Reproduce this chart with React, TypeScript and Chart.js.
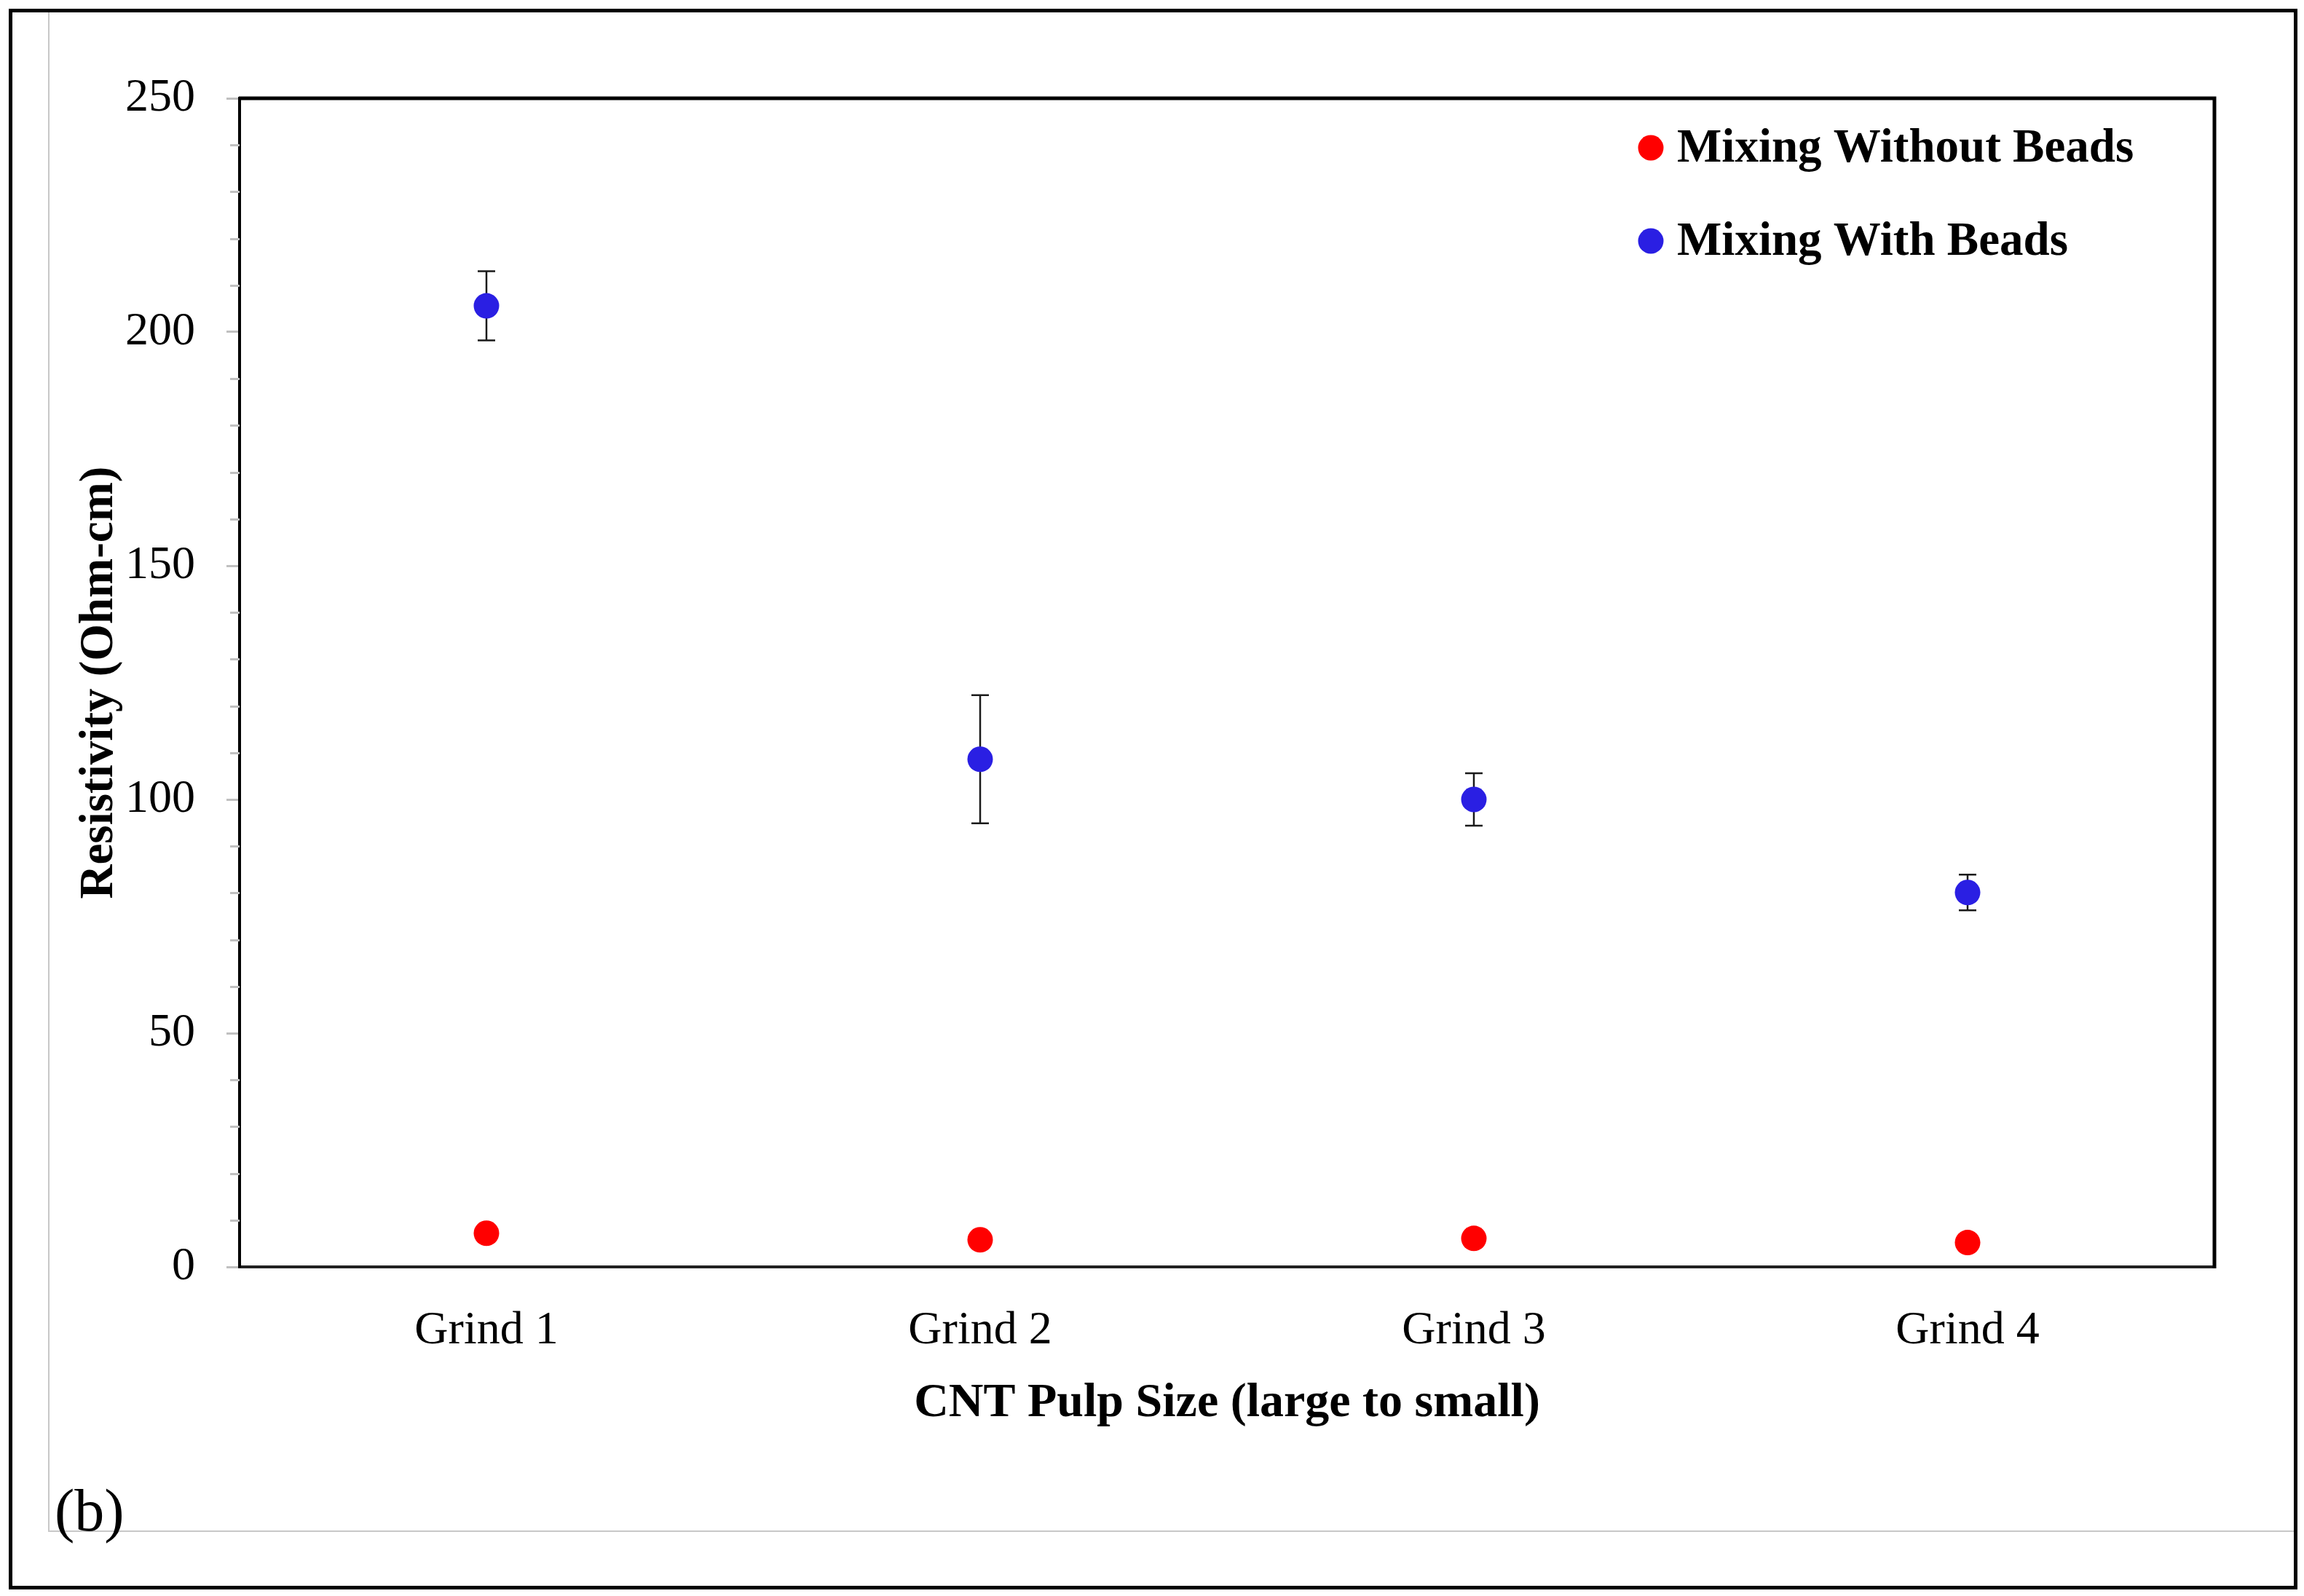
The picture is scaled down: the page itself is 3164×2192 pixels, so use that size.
import React, { useEffect, useRef } from 'react';
import { Chart, registerables } from 'chart.js';

Chart.register(...registerables);

// ---- data ----
const categories = ['Grind 1', 'Grind 2', 'Grind 3', 'Grind 4'];
const seriesLabels = ['Mixing Without Beads', 'Mixing With Beads'];
const withoutBeads = [7.2, 5.8, 6.1, 5.2];
const withBeads = [205.6, 108.6, 100.0, 80.1];
const withBeadsErr = [7.4, 13.7, 5.6, 3.8];
const yMin = 0;
const yMax = 250;
const yMajorStep = 50;
const yMinorStep = 10;
const xTitle = 'CNT Pulp Size (large to small)';
const yTitle = 'Resistivity (Ohm-cm)';
const panelLabel = '(b)';

const FONT = "'Liberation Serif', 'Times New Roman', serif";
const RED = '#ff0000';
const BLUE = '#2a1fe3';
const W = 3164;
const H = 2192;

const errorsByDataset: Record<number, number[]> = { 1: withBeadsErr };

const framePlugin = {
  id: 'frame',
  beforeDraw(chart: any) {
    const { ctx } = chart;
    ctx.save();
    ctx.fillStyle = '#ffffff';
    ctx.fillRect(0, 0, chart.width, chart.height);
    // thin gray chart-area frame
    ctx.strokeStyle = '#c8c8c8';
    ctx.lineWidth = 2;
    ctx.beginPath();
    ctx.moveTo(67, 14);
    ctx.lineTo(67, 2103);
    ctx.lineTo(3150, 2103);
    ctx.stroke();
    // outer black frame
    ctx.strokeStyle = '#000000';
    ctx.lineWidth = 5;
    ctx.strokeRect(14.5, 14.5, 3152.5 - 14.5, 2180.5 - 14.5);
    ctx.restore();
  },
  afterDraw(chart: any) {
    const { ctx, chartArea } = chart;
    ctx.save();
    // top & right plot border
    ctx.strokeStyle = '#000000';
    ctx.lineWidth = 5;
    ctx.beginPath();
    ctx.moveTo(chartArea.left - 1, chartArea.top);
    ctx.lineTo(chartArea.right, chartArea.top);
    ctx.lineTo(chartArea.right, chartArea.bottom + 2);
    ctx.stroke();
    // panel label
    ctx.fillStyle = '#000000';
    ctx.font = `82px ${FONT}`;
    ctx.textAlign = 'left';
    ctx.textBaseline = 'alphabetic';
    ctx.fillText(panelLabel, 75, 2102);
    ctx.restore();
  },
};

const minorTickPlugin = {
  id: 'minorTicks',
  afterDraw(chart: any) {
    const { ctx, chartArea } = chart;
    const ys = chart.scales.y;
    ctx.save();
    ctx.strokeStyle = '#c0c0c0';
    ctx.lineWidth = 3;
    for (let v = yMin; v <= yMax; v += yMinorStep) {
      if (v % yMajorStep === 0) continue;
      const py = Math.round(ys.getPixelForValue(v)) + 0.5;
      ctx.beginPath();
      ctx.moveTo(chartArea.left - 13, py);
      ctx.lineTo(chartArea.left, py);
      ctx.stroke();
    }
    ctx.restore();
  },
};

const errorBarPlugin = {
  id: 'errorBars',
  beforeDatasetsDraw(chart: any) {
    const { ctx } = chart;
    const ys = chart.scales.y;
    ctx.save();
    ctx.strokeStyle = '#1a1a1a';
    ctx.lineWidth = 2.5;
    Object.keys(errorsByDataset).forEach((k) => {
      const di = Number(k);
      const errs = errorsByDataset[di];
      const meta = chart.getDatasetMeta(di);
      const vals = chart.data.datasets[di].data as number[];
      meta.data.forEach((el: any, i: number) => {
        const e = errs[i];
        if (e == null) return;
        const x = el.x;
        const yt = ys.getPixelForValue(vals[i] + e);
        const yb = ys.getPixelForValue(vals[i] - e);
        ctx.beginPath();
        ctx.moveTo(x, yt);
        ctx.lineTo(x, yb);
        ctx.moveTo(x - 12, yt);
        ctx.lineTo(x + 12, yt);
        ctx.moveTo(x - 12, yb);
        ctx.lineTo(x + 12, yb);
        ctx.stroke();
      });
    });
    ctx.restore();
  },
};

const legendPlugin = {
  id: 'insideLegend',
  afterDraw(chart: any) {
    const { ctx, chartArea } = chart;
    ctx.save();
    ctx.font = `bold 65px ${FONT}`;
    ctx.textAlign = 'left';
    ctx.textBaseline = 'alphabetic';
    chart.data.datasets.forEach((ds: any, i: number) => {
      const baseY = chartArea.top + 87 + i * 128;
      const mx = chartArea.right - 774;
      const my = baseY - 19;
      ctx.fillStyle = ds.backgroundColor;
      ctx.beginPath();
      ctx.arc(mx, my, 17.5, 0, Math.PI * 2);
      ctx.fill();
      ctx.fillStyle = '#000000';
      ctx.fillText(ds.label, chartArea.right - 738, baseY);
    });
    ctx.restore();
  },
};

export default function App() {
  const canvasRef = useRef<HTMLCanvasElement | null>(null);

  useEffect(() => {
    document.body.style.margin = '0';
    const canvas = canvasRef.current;
    if (!canvas) return;
    const chart = new Chart(canvas, {
      type: 'line',
      data: {
        labels: categories,
        datasets: [
          {
            label: seriesLabels[0],
            data: withoutBeads,
            showLine: false,
            backgroundColor: RED,
            borderColor: RED,
            pointBackgroundColor: RED,
            pointBorderWidth: 0,
            pointRadius: 17.5,
            pointHoverRadius: 17.5,
          },
          {
            label: seriesLabels[1],
            data: withBeads,
            showLine: false,
            backgroundColor: BLUE,
            borderColor: BLUE,
            pointBackgroundColor: BLUE,
            pointBorderWidth: 0,
            pointRadius: 17.5,
            pointHoverRadius: 17.5,
          },
        ],
      },
      options: {
        responsive: false,
        animation: false,
        devicePixelRatio: 1,
        events: [],
        layout: { padding: { left: 0, top: 135, right: 123, bottom: 0 } },
        plugins: {
          legend: { display: false },
          tooltip: { enabled: false },
          title: { display: false },
        },
        scales: {
          x: {
            type: 'category',
            offset: true,
            grid: { display: false, drawTicks: false, offset: true },
            border: { display: true, color: '#222222', width: 4 },
            ticks: {
              color: '#000000',
              font: { family: FONT, size: 64, lineHeight: 1.2 },
              padding: 50,
              maxRotation: 0,
              autoSkip: false,
            },
            title: {
              display: true,
              text: xTitle,
              color: '#000000',
              font: { family: FONT, size: 66, weight: 'bold', lineHeight: 1.2 },
              padding: { top: 0, bottom: 224 },
            },
            afterFit: (s: any) => {
              s.height = H - 1740;
            },
          },
          y: {
            type: 'linear',
            min: yMin,
            max: yMax,
            grid: {
              drawOnChartArea: false,
              drawTicks: true,
              tickLength: 18,
              tickColor: '#c0c0c0',
              tickWidth: 3,
            },
            border: { display: true, color: '#000000', width: 4 },
            ticks: {
              stepSize: yMajorStep,
              color: '#000000',
              font: { family: FONT, size: 64, lineHeight: 1.2 },
              padding: 43,
            },
            title: {
              display: true,
              text: yTitle,
              color: '#000000',
              font: { family: FONT, size: 65, weight: 'bold', lineHeight: 1.2 },
              padding: { top: 98, bottom: 0 },
            },
            afterFit: (s: any) => {
              s.width = 329;
            },
          },
        },
      },
      plugins: [framePlugin, minorTickPlugin, errorBarPlugin, legendPlugin],
    });
    return () => chart.destroy();
  }, []);

  return (
    <div style={{ position: 'absolute', left: 0, top: 0, width: W, height: H, background: '#fff' }}>
      <canvas ref={canvasRef} width={W} height={H} style={{ width: W, height: H, display: 'block' }} />
    </div>
  );
}
